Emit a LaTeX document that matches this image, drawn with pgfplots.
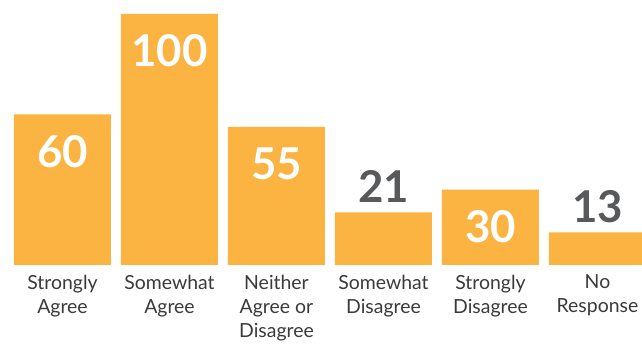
\documentclass[border=0pt]{standalone}
\usepackage{fontspec}
\setmainfont{Lato}
\usepackage{pgfplots}
\pgfplotsset{compat=1.18}
\definecolor{barc}{RGB}{251,179,66}
\definecolor{valc}{RGB}{88,89,91}
\definecolor{labc}{RGB}{58,58,58}
\tikzset{
  vin/.style={anchor=base, inner sep=0pt, text=white, font=\fontsize{44}{50}\selectfont\bfseries},
  vout/.style={anchor=base, inner sep=0pt, text=valc, font=\fontsize{44}{50}\selectfont\bfseries},
  cat/.style={anchor=north, inner sep=0pt, align=center, text=labc, font=\fontsize{19.5}{24}\selectfont},
}
\begin{document}
\begin{tikzpicture}
\begin{axis}[
  at={(0,0)}, anchor=south west,
  scale only axis, width=642bp, height=344bp,
  xmin=-0.584, xmax=5.416, ymin=-31.474, ymax=105.578,
  hide axis, clip=false,
]
\addplot[ybar, fill=barc, draw=none, bar width=97bp] coordinates {
 (0,60) (1,100) (2,55) (3,21) (4,30) (5,13)};
\node[vin] at (axis cs:0,38.9) {60};
\node[vin] at (axis cs:1,78.9) {100};
\node[vin] at (axis cs:2,33.9) {55};
\node[vin] at (axis cs:4,8.9) {30};
\node[vout] at (axis cs:3,24.8) {21};
\node[vout] at (axis cs:5,16.8) {13};
\node[cat] at (axis cs:0,-3.9) {Strongly\\Agree};
\node[cat] at (axis cs:1,-3.9) {Somewhat\\Agree};
\node[cat] at (axis cs:2,-3.9) {Neither\\Agree or\\Disagree};
\node[cat] at (axis cs:3,-3.9) {Somewhat\\Disagree};
\node[cat] at (axis cs:4,-3.9) {Strongly\\Disagree};
\node[cat] at (axis cs:5,-3.9) {No\\Response};
\end{axis}
\pgfresetboundingbox
\path (0,0) rectangle (642bp,344bp);
\end{tikzpicture}
\end{document}
